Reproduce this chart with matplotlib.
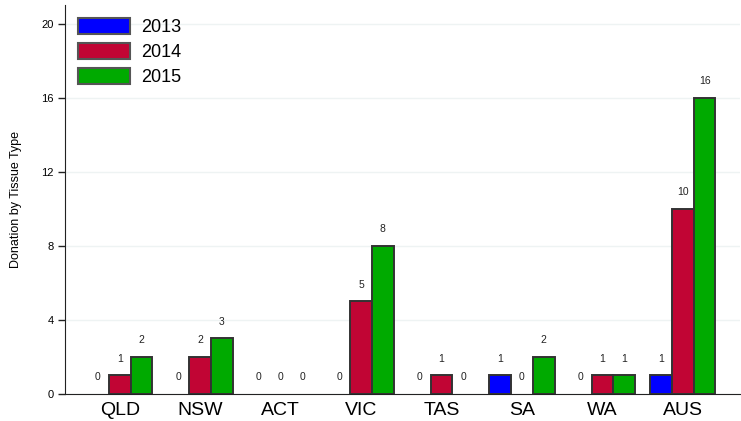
import matplotlib
matplotlib.use("Agg")
import matplotlib.pyplot as plt
from matplotlib.patches import Patch
import numpy as np

plt.rcParams['font.family'] = ['Liberation Sans', 'DejaVu Sans']

categories = ["QLD", "NSW", "ACT", "VIC", "TAS", "SA", "WA", "AUS"]
years = ["2013", "2014", "2015"]
v2013 = [0, 0, 0, 0, 0, 1, 0, 1]
v2014 = [1, 2, 0, 5, 1, 0, 1, 10]
v2015 = [2, 3, 0, 8, 0, 2, 1, 16]
series = [v2013, v2014, v2015]
colors = ["#0000ff", "#c10534", "#00aa00"]
yticks = [0, 4, 8, 12, 16, 20]

fig = plt.figure(figsize=(7.41, 4.21), dpi=100)
ax = fig.add_axes([0.0877, 0.0641, 0.911, 0.924])

x = np.arange(len(categories))
w = 0.27
for k, (vals, col, lab) in enumerate(zip(series, colors, years)):
    xs = x + (k - 1) * w
    bars = ax.bar(xs, vals, width=w, color=col, edgecolor="#333333", linewidth=1.4,
                  zorder=3)
    for b, v in zip(bars, vals):
        if v == 0:
            b.set_visible(False)
    for xi, v in zip(xs, vals):
        ax.annotate(str(v), (xi, v), xytext=(0, 12), textcoords="offset points",
                    ha="center", va="center", fontsize=7.5, color="#222222")

ax.set_xlim(-0.68, 7.71)
ax.set_ylim(0, 21)
ax.set_yticks(yticks)
ax.set_yticklabels([str(t) for t in yticks], fontsize=8)
ax.set_xticks(x)
ax.set_xticklabels(categories, fontsize=14)
ax.tick_params(axis="x", length=0, pad=6)
ax.tick_params(axis="y", length=5, width=1, color="#222222", pad=3)
ax.grid(axis="y", color="#eef3f3", linewidth=1, zorder=0)
ax.set_axisbelow(True)
for s in ["top", "right"]:
    ax.spines[s].set_visible(False)
ax.spines["left"].set_color("#222222")
ax.spines["bottom"].set_color("#222222")
ax.set_ylabel("Donation by Tissue Type", fontsize=9, labelpad=14)

handles = [Patch(facecolor=c, edgecolor="#555555", linewidth=1.5, label=y)
           for c, y in zip(colors, years)]
leg = ax.legend(handles=handles, loc="upper left", bbox_to_anchor=(0.0, 1.0),
                frameon=False, fontsize=13, handlelength=2.9, handleheight=0.98,
                labelspacing=0.38, handletextpad=0.6, borderaxespad=0.3)

fig.savefig("out.png", dpi=100)
